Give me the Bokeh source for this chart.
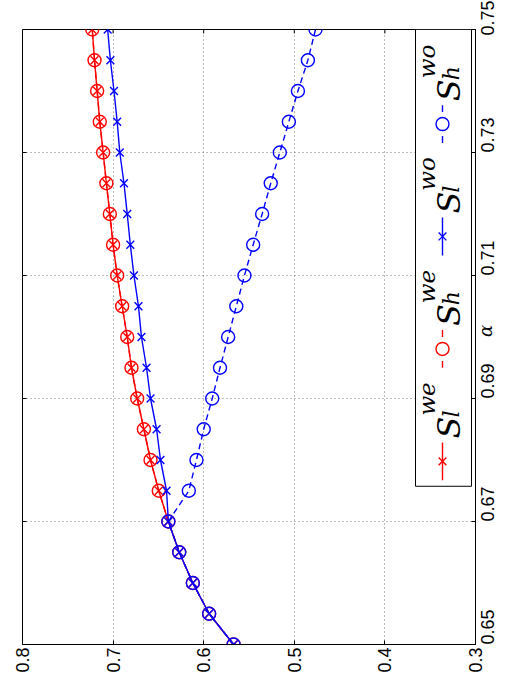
import math
from bokeh.plotting import figure
from bokeh.models import Range1d, FixedTicker, Label
from bokeh.embed import file_html
from bokeh.resources import INLINE

# ---------------- data ----------------
alpha = [0.650, 0.655, 0.660, 0.665, 0.670, 0.675, 0.680, 0.685, 0.690, 0.695,
         0.700, 0.705, 0.710, 0.715, 0.720, 0.725, 0.730, 0.735, 0.740, 0.745, 0.750]

s_l_we = [0.567, 0.594, 0.612, 0.627, 0.639, 0.6496, 0.6587, 0.666, 0.6734, 0.6797,
          0.6844, 0.690, 0.6955, 0.700, 0.7036, 0.7074, 0.711, 0.7147, 0.7176, 0.7205, 0.723]
s_h_we = [0.567, 0.594, 0.612, 0.627, 0.639, 0.6496, 0.6587, 0.666, 0.6734, 0.6797,
          0.6844, 0.690, 0.6955, 0.700, 0.7036, 0.7074, 0.711, 0.7147, 0.7176, 0.7205, 0.723]
s_l_wo = [0.567, 0.594, 0.612, 0.627, 0.639, 0.641, 0.6477, 0.652, 0.6587, 0.6631,
          0.6687, 0.672, 0.677, 0.681, 0.6844, 0.688, 0.6926, 0.6955, 0.699, 0.703, 0.706]
s_h_wo = [0.567, 0.594, 0.612, 0.627, 0.639, 0.6164, 0.608, 0.600, 0.5906, 0.582,
          0.573, 0.564, 0.555, 0.5454, 0.5355, 0.526, 0.516, 0.506, 0.496, 0.485, 0.4766]

value_ticks = [0.3, 0.4, 0.5, 0.6, 0.7, 0.8]
alpha_ticks = [0.65, 0.67, 0.69, 0.71, 0.73, 0.75]

RED = "#ff0000"
BLUE = "#0000ff"

# canvas / frame geometry (pixels)
W, H = 511, 675
FL, FT, FW, FH = 22, 29, 453, 618
XMAX, XMIN = 0.8, 0.3
YMIN, YMAX = 0.65, 0.75

# ---------------- figure ----------------
p = figure(width=W, height=H,
           x_range=Range1d(XMAX, XMIN), y_range=Range1d(YMIN, YMAX),
           output_backend="svg", toolbar_location=None,
           y_axis_location="right",
           min_border_left=FL, min_border_top=FT,
           min_border_right=W - FL - FW, min_border_bottom=H - FT - FH)
p.background_fill_color = "white"
p.border_fill_color = "white"
p.outline_line_color = "black"
p.outline_line_width = 1

TICK_FONT = "Liberation Sans"

xa = p.xaxis[0]
xa.ticker = FixedTicker(ticks=value_ticks)
xa.major_label_orientation = math.pi / 2
xa.major_label_text_font = TICK_FONT
xa.major_label_text_font_size = "18px"
xa.major_label_text_color = "black"
xa.major_label_standoff = 3
xa.major_tick_in = 4
xa.major_tick_out = 0
xa.minor_tick_line_color = None
xa.axis_line_color = "black"

ya = p.yaxis[0]
ya.ticker = FixedTicker(ticks=alpha_ticks)
ya.major_label_orientation = math.pi / 2
ya.major_label_text_font = TICK_FONT
ya.major_label_text_font_size = "18px"
ya.major_label_text_color = "black"
ya.major_label_standoff = 12
ya.major_tick_in = 4
ya.major_tick_out = 0
ya.minor_tick_line_color = None
ya.axis_line_color = "black"
# axis label alpha, drawn in the tick-label column (between 0.71 and 0.69)
ya.axis_label = "α"
ya.axis_label_text_font = "DejaVu Serif"
ya.axis_label_text_font_style = "italic"
ya.axis_label_text_font_size = "18px"
ya.axis_label_text_color = "black"
ya.axis_label_standoff = -18
try:
    ya.axis_label_orientation = math.pi / 2
except Exception:
    pass

p.xgrid.ticker = FixedTicker(ticks=value_ticks)
p.ygrid.ticker = FixedTicker(ticks=alpha_ticks)
for g in (p.xgrid[0], p.ygrid[0]):
    g.grid_line_color = "#777777"
    g.grid_line_dash = "1 3"
    g.grid_line_width = 1

# pixel -> data helpers (picture coords, frame at FL/FT)
def vx(px):
    return XMAX - (px - FL) * (XMAX - XMIN) / FW

def ay(py):
    return YMIN + (FT + FH - py) * (YMAX - YMIN) / FH

# mirrored inward ticks on left and top edges
TL = 4
dx = TL * (XMAX - XMIN) / FW
dy = TL * (YMAX - YMIN) / FH
p.segment(x0=[XMAX] * len(alpha_ticks), y0=alpha_ticks,
          x1=[XMAX - dx] * len(alpha_ticks), y1=alpha_ticks, line_color="black", line_width=1)
p.segment(x0=value_ticks, y0=[YMAX] * len(value_ticks),
          x1=value_ticks, y1=[YMAX - dy] * len(value_ticks), line_color="black", line_width=1)

# ---------------- series ----------------
LW = 1.4
p.line(s_l_we, alpha, line_color=RED, line_width=LW)
p.scatter(s_l_we, alpha, marker="x", size=11, line_color=RED, line_width=LW)
p.line(s_h_we, alpha, line_color=RED, line_width=LW, line_dash="6 4")
p.scatter(s_h_we, alpha, marker="circle", size=13, fill_color=None, line_color=RED, line_width=LW)

p.line(s_l_wo, alpha, line_color=BLUE, line_width=LW)
p.scatter(s_l_wo, alpha, marker="x", size=11, line_color=BLUE, line_width=LW)
p.line(s_h_wo, alpha, line_color=BLUE, line_width=LW, line_dash="6 4")
p.scatter(s_h_wo, alpha, marker="circle", size=13, fill_color=None, line_color=BLUE, line_width=LW)

# ---------------- rotated legend ----------------
p.quad(left=[vx(415)], right=[vx(471)], top=[ay(29)], bottom=[ay(488)],
       fill_color="white", line_color="black", line_width=1)

leg = [
    (463, RED, "x", True, "l", "we"),
    (350, RED, "circle", False, "h", "we"),
    (237, BLUE, "x", True, "l", "wo"),
    (124, BLUE, "circle", False, "h", "wo"),
]
mx = 442
for ym, col, mk, solid, sub, sup in leg:
    if solid:
        p.line([vx(mx), vx(mx)], [ay(ym + 19), ay(ym - 19)], line_color=col, line_width=LW)
    else:
        p.line([vx(mx), vx(mx)], [ay(ym + 19), ay(ym + 12)], line_color=col, line_width=LW)
        p.line([vx(mx), vx(mx)], [ay(ym - 12), ay(ym - 19)], line_color=col, line_width=LW)
    p.scatter([vx(mx)], [ay(ym)], marker=mk, size=(11 if mk == "x" else 13),
              fill_color=None, line_color=col, line_width=LW)
    p.add_layout(Label(x=vx(448), y=ay(ym - 23), text="S", angle=math.pi / 2,
                       text_font="DejaVu Serif", text_font_style="italic",
                       text_font_size="32px", text_align="left", text_baseline="alphabetic",
                       text_color="black"))
    p.add_layout(Label(x=vx(426), y=ay(ym - 46), text=sup, angle=math.pi / 2,
                       text_font="DejaVu Serif", text_font_style="italic",
                       text_font_size="23px", text_align="left", text_baseline="alphabetic",
                       text_color="black"))
    p.add_layout(Label(x=vx(451), y=ay(ym - 44), text=sub, angle=math.pi / 2,
                       text_font="DejaVu Serif", text_font_style="italic",
                       text_font_size="22px", text_align="left", text_baseline="alphabetic",
                       text_color="black"))

open("out.html", "w").write(file_html(p, INLINE))
